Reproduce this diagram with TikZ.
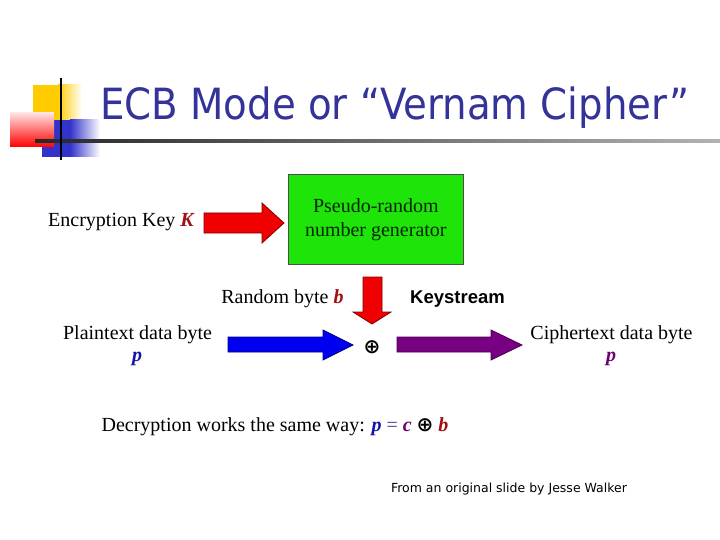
\documentclass[tikz,border=0pt]{standalone}
\usepackage{fontspec}
\setmainfont{Liberation Serif}
\newfontfamily\titlefont{DejaVu Sans}
\newfontfamily\arialfont{Liberation Sans}
\usetikzlibrary{calc}
\definecolor{titleblue}{RGB}{51,51,153}
\definecolor{keyred}{RGB}{160,16,16}
\definecolor{pblue}{RGB}{20,20,170}
\definecolor{cpurple}{RGB}{110,0,110}
\definecolor{boxgreen}{RGB}{30,228,10}
\definecolor{arrred}{RGB}{240,0,0}
\definecolor{arrblue}{RGB}{0,0,240}
\definecolor{arrpurple}{RGB}{120,0,130}
\definecolor{logoyellow}{RGB}{255,204,0}
\definecolor{logoblue}{RGB}{51,51,204}
\tikzset{
  serif/.style={font=\fontsize{20}{23}\selectfont, inner sep=0pt},
  blockarrow/.style={line width=0.8pt, line join=miter},
}
\begin{document}
\begin{tikzpicture}[x=1pt,y=-1pt]
\path[use as bounding box, fill=white] (0,0) rectangle (720,540);
% logo
\fill[logoyellow] (33,85) rectangle (58,120);
\shade[left color=logoyellow, right color=white] (58,85) rectangle (82,120);
\fill[logoblue] (42,120) rectangle (70,157);
\shade[left color=logoblue, right color=white] (70,120) rectangle (100,157);
\shade[left color=red!12, right color=red, shading angle=0] (10,113) rectangle (54,147);
\shade[left color=black!85, right color=black!30] (35,140) rectangle (720,142.5);
\draw[line width=2pt] (61,78) -- (61,160);
% title
\node[anchor=base west, inner sep=0pt, text=titleblue, font=\titlefont\fontsize{43}{48}\selectfont] (title) at (100,120) {\scalebox{0.9}[1]{ECB Mode or “Vernam Cipher”}};
% green box
\node[draw=black!70, line width=0.6pt, fill=boxgreen, minimum width=175pt, minimum height=90pt, inner sep=0pt, anchor=north west, align=center, text=black!85!green, font=\fontsize{20}{24}\selectfont] (prng) at (288,174) {Pseudo-random\\number generator};
% labels
\node[serif, anchor=base] (enc) at (121.5,226) {Encryption Key \textcolor{keyred}{\textbf{\textit{K}}}};
\node[serif, anchor=base] (rb) at (282.5,303) {Random byte \textcolor{keyred}{\textbf{\textit{b}}}};
\node[anchor=base, inner sep=0pt, font=\arialfont\bfseries\fontsize{18.5}{20}\selectfont] (ks) at (457.5,303) {Keystream};
\node[serif, anchor=base] (pt) at (137.5,339) {Plaintext data byte};
\node[serif, anchor=base, text=pblue] (ptp) at (137,361) {\textbf{\textit{p}}};
\node[serif, anchor=base] (ct) at (611.5,339) {Ciphertext data byte};
\node[serif, anchor=base, text=cpurple] (ctp) at (611,361) {\textbf{\textit{p}}};
\node[inner sep=0pt, font=\titlefont\bfseries\fontsize{20}{22}\selectfont] (xor) at (372,347) {⊕};
\node[serif, anchor=base] (dec) at (275,431) {Decryption works the same way: \textcolor{pblue}{\textbf{\textit{p}}} \textcolor{pblue!60!gray}{=} \textcolor{cpurple}{\textbf{\textit{c}}} {\titlefont\bfseries\fontsize{20}{22}\selectfont ⊕} \textcolor{keyred}{\textbf{\textit{b}}}};
\node[anchor=base, inner sep=0pt, font=\titlefont\fontsize{12.5}{15}\selectfont] (credit) at (509,492) {From an original slide by Jesse Walker};
% block arrows
\draw[blockarrow, fill=arrred, draw=red!50!black] (204,213) -- (262,213) -- (262,203) -- (284,223) -- (262,243) -- (262,233) -- (204,233) -- cycle;
\draw[blockarrow, fill=arrred, draw=red!50!black] (363,277) -- (382,277) -- (382,312) -- (391,312) -- (372,324) -- (353,312) -- (363,312) -- cycle;
\draw[blockarrow, fill=arrblue, draw=blue!50!black] (228,337) -- (323,337) -- (323,330) -- (353,345) -- (323,360) -- (323,352) -- (228,352) -- cycle;
\draw[blockarrow, fill=arrpurple, draw=arrpurple!60!black] (397,337) -- (491,337) -- (491,330) -- (522,345) -- (491,360) -- (491,352) -- (397,352) -- cycle;
\end{tikzpicture}
\end{document}
